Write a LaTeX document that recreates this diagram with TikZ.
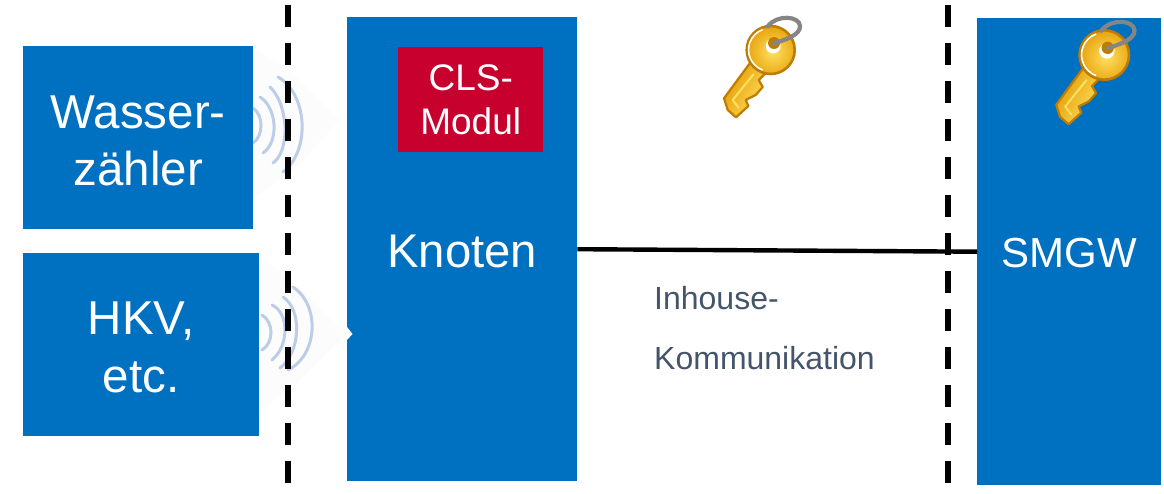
\documentclass[tikz,border=0pt]{standalone}
\usepackage{fontspec}
\setmainfont{Liberation Sans}
\definecolor{bosch}{HTML}{0070C0}
\definecolor{clsred}{HTML}{C8002E}
\definecolor{wavec}{HTML}{BCCDE8}
\definecolor{fadec}{HTML}{FCFCFD}
\definecolor{inhouse}{HTML}{44546A}
\definecolor{keyedge}{HTML}{C07C00}
\definecolor{keylight}{HTML}{FFE060}
\definecolor{keymid}{HTML}{F6B820}
\definecolor{keydark}{HTML}{E39A00}
\definecolor{ringc}{HTML}{858585}
\tikzset{
  bluebox/.style={fill=bosch,text=white,inner sep=0pt,align=center,anchor=north west},
  wave/.style={draw=wavec,line width=3pt,line cap=round},
  fence/.style={line width=6pt,draw=black,dash pattern=on 22pt off 16pt},
  inhousetext/.style={text=inhouse,inner sep=0pt,anchor=base west,font=\fontsize{32}{36}\selectfont},
  keyicon/.pic={
    % blade
    \path[draw=keyedge,line width=2.2pt,line join=round,top color=keydark,bottom color=keylight,shading angle=60]
      (-20.7,13) -- (-46.7,48.3) -- (-43,60) -- (-34.7,67.3) -- (-22.3,56) -- (-25,50)
      -- (-15,45) -- (-8,37) -- (-12,30) -- (-4,22) -- cycle;
    \draw[keylight,line width=2pt,line join=round] (-32,58) -- (-38,50) -- (-17,24);
    % head
    \begin{scope}
      \clip (0,0) circle (24);
      \shade[inner color=keylight,outer color=keydark] (2,2) circle (30);
    \end{scope}
    \draw[keyedge,line width=2.6pt] (0,0) circle (24);
    \draw[white,line width=1.6pt] (-8,20) arc (110:250:21.5);
    \fill[white] (2.5,-4) circle (7.5);
    \fill[keyedge] (3.3,-7) circle (6);
    % ring
    \draw[ringc,line width=4.2pt,line cap=round]
      (3.3,-6.7) .. controls (14,-10) and (30,-15) .. (29.3,-24)
      .. controls (29,-34) and (6,-36) .. (-3,-23.5);
  },
}
\begin{document}
\begin{tikzpicture}[x=1pt,y=-1pt]
\useasboundingbox (0,0) rectangle (1164,494);
% radio waves
\fill[fadec] (250,45) -- (290,70) -- (340,120) -- (290,175) -- (250,200) -- cycle;
\fill[fadec] (255,250) -- (295,285) -- (347,333) -- (295,385) -- (255,415) -- cycle;
\draw[wave] (278,77) .. controls (307.7,94) and (310.7,151) .. (283,172);
\draw[wave] (270,87) .. controls (288.6,104.7) and (290.4,150.7) .. (273,163);
\draw[wave] (260,97) .. controls (277.3,108) and (279.1,142) .. (263,153);
\draw[wave] (253,108) .. controls (263.7,115) and (263.7,136) .. (253,143);
\draw[wave] (293,287) .. controls (320.7,305.6) and (317.7,355.4) .. (288,370);
\draw[wave] (283,297) .. controls (303.1,310.3) and (300.1,353.3) .. (280,368);
\draw[wave] (272,305) .. controls (289.3,312.7) and (289.3,345.7) .. (272,360);
\draw[wave] (262,315) .. controls (274,322) and (274,343) .. (262,350);
% boxes
\node[bluebox,minimum width=230pt,minimum height=183pt,font=\fontsize{47.5}{57}\selectfont] (wasser) at (23,46) {\rule{0pt}{40pt}Wasser-\\zähler};
\node[bluebox,minimum width=236pt,minimum height=183pt,font=\fontsize{47.5}{58}\selectfont] (hkv) at (23,253) {\rule{0pt}{38pt}HKV,\\etc.};
\node[bluebox,minimum width=230pt,minimum height=464pt,font=\fontsize{47.3}{56}\selectfont] (knoten) at (347,17) {\rule{0pt}{38pt}Knoten};
\node[bluebox,minimum width=184pt,minimum height=467pt,font=\fontsize{42}{50}\selectfont] (smgw) at (977,18) {\rule{0pt}{32pt}SMGW};
\node[fill=clsred,text=white,inner sep=0pt,align=center,anchor=north west,minimum width=145pt,minimum height=105pt,font=\fontsize{37}{44}\selectfont] (cls) at (398,47) {CLS-\\Modul};
\fill[white] (347,327) -- (352.5,334) -- (347,340) -- cycle;
% fences
\coordinate (f1a) at (288,5);
\coordinate (f1b) at (288,485);
\coordinate (f2a) at (948,5);
\coordinate (f2b) at (948,485);
\draw[fence] (f1a) -- (f1b);
\draw[fence] (f2a) -- (f2b);
% link
\draw[line width=4.4pt,black] (knoten.east) -- (smgw.west);
\node[inhousetext] (t1) at (654,309) {Inhouse-};
\node[inhousetext] (t2) at (654,369) {Kommunikation};
% keys
\pic at (770.7,50) {keyicon};
\pic[scale=1.03] at (1104.3,55) {keyicon};
\end{tikzpicture}
\end{document}
